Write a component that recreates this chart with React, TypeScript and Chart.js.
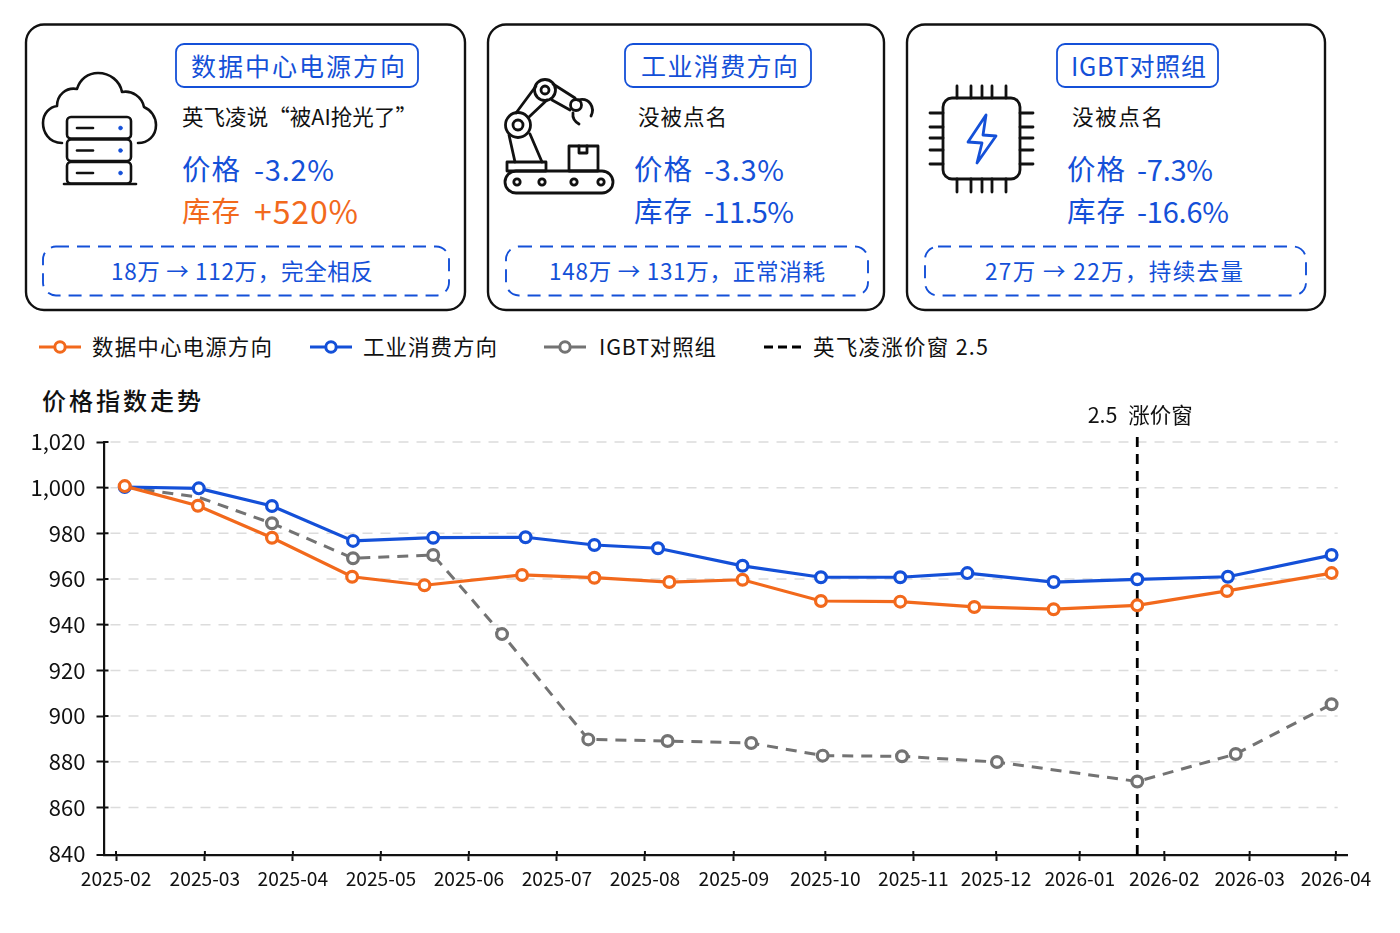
import React, { useEffect, useRef } from "react";
import { Chart, registerables } from "chart.js";

Chart.register(...registerables);

const FONT = '"Noto Sans CJK SC", "Noto Sans", sans-serif';
const ORANGE = "#f2691c";
const BLUE = "#1450d8";
const GREY = "#737373";
const INK = "#111111";

// ---- chart data ----
const monthLabels = ["2025-02","2025-03","2025-04","2025-05","2025-06","2025-07","2025-08","2025-09","2025-10","2025-11","2025-12","2026-01","2026-02","2026-03","2026-04"];
const monthPositions = [0,1.02,2.03,3.04,4.05,5.06,6.07,7.09,8.14,9.15,10.1,11.06,12.03,13.01,14];
const yTicks = [840,860,880,900,920,940,960,980,1000,1020];

const dcX = [0.1,0.94,1.79,2.71,3.54,4.66,5.49,6.35,7.19,8.09,9,9.85,10.76,11.72,12.75,13.95];
const dcY = [1000.7,992.1,978.1,961,957.3,961.8,960.6,958.7,959.7,950.4,950.1,947.8,946.8,948.5,954.8,962.6];
const indX = [0.1,0.95,1.79,2.72,3.64,4.7,5.49,6.22,7.19,8.09,9,9.77,10.76,11.72,12.76,13.95];
const indY = [1000.3,999.7,992,976.7,978.1,978.3,974.9,973.5,965.8,960.8,960.8,962.6,958.7,959.9,961,970.5];
const igbtX = [0.1,0.94,1.79,2.72,3.64,4.43,5.42,6.33,7.29,8.11,9.02,10.11,11.72,12.85,13.95];
const igbtY = [1000.3,995.9,984.4,969.1,970.5,935.9,889.8,889.1,888.2,882.7,882.4,879.9,871.4,883.4,905.2];
const windowX = [11.72,11.72];
const windowY = [839.2,1024];
const windowLabel = "2.5 涨价窗";

const seriesNames = ["数据中心电源方向","工业消费方向","IGBT对照组","英飞凌涨价窗 2.5"];
const chartTitle = "价格指数走势";

// ---- card text ----
const cardTitles = ["数据中心电源方向","工业消费方向","IGBT对照组"];
const cardNotes = ["英飞凌说“被AI抢光了”","没被点名","没被点名"];
const priceLabel = "价格";
const stockLabel = "库存";
const cardPrices = ["-3.2%","-3.3%","-7.3%"];
const cardStocks = ["+520%","-11.5%","-16.6%"];
const cardFooters = ["18万 → 112万，完全相反","148万 → 131万，正常消耗","27万 → 22万，持续去量"];

const zip = (xs: number[], ys: number[]) => xs.map((x, i) => ({ x, y: ys[i] }));

const dashedGrid = {
  id: "dashedGrid",
  beforeDatasetsDraw(chart: any) {
    const { ctx, scales, chartArea } = chart;
    ctx.save();
    ctx.strokeStyle = "#dcdcdc";
    ctx.lineWidth = 1.5;
    ctx.setLineDash([10, 8]);
    ctx.beginPath();
    scales.y.ticks.forEach((t: any, i: number) => {
      if (t.value === 840) return;
      const py = scales.y.getPixelForTick(i);
      ctx.moveTo(chartArea.left + 6, py);
      ctx.lineTo(scales.x.getPixelForValue(14.02), py);
    });
    ctx.stroke();
    ctx.restore();
  },
};

const axisMarks = {
  id: "axisMarks",
  afterDraw(chart: any) {
    const { ctx, scales, chartArea } = chart;
    ctx.save();
    ctx.strokeStyle = "#111";
    ctx.lineWidth = 2;
    ctx.beginPath();
    scales.x.ticks.forEach((_: any, i: number) => {
      const px = scales.x.getPixelForTick(i);
      ctx.moveTo(px, chartArea.bottom);
      ctx.lineTo(px, chartArea.bottom - 4);
    });
    scales.y.ticks.forEach((t: any, i: number) => {
      if (t.value === 840) return;
      const py = scales.y.getPixelForTick(i);
      ctx.moveTo(chartArea.left, py);
      ctx.lineTo(chartArea.left + 4, py);
    });
    ctx.moveTo(chartArea.left - 8, chartArea.bottom);
    ctx.lineTo(chartArea.left, chartArea.bottom);
    ctx.stroke();
    ctx.restore();
  },
};

const windowCaption = {
  id: "windowCaption",
  afterDraw(chart: any) {
    const { ctx, scales } = chart;
    ctx.save();
    ctx.font = `21.5px ${FONT}`;
    (ctx as any).wordSpacing = "6px";
    ctx.fillStyle = INK;
    ctx.textAlign = "center";
    ctx.textBaseline = "middle";
    ctx.fillText(windowLabel, scales.x.getPixelForValue(windowX[0]) + 3, scales.y.getPixelForValue(windowY[1]) - 18.5);
    ctx.restore();
  },
};

const T = (p: any) => <text dominantBaseline="central" fontFamily={FONT} {...p} />;

function CloudIcon() {
  const rows = [117, 139.5, 162];
  return (
    <g fill="none" stroke={INK} strokeWidth={2.6} strokeLinecap="round" strokeLinejoin="round">
      <path d="M62 143 C48 143 43 131 43 123 C43 113 50 107 57 106 C57 95 66 87 77 89 C80 79 88 73 98 73 C110 73 120 81 122 92 C132 90 142 97 144 107 C151 110 156 117 156 125 C156 136 148 143 138 143" />
      {rows.map((y) => (
        <g key={y}>
          <rect x={67} y={y} width={64} height={21.5} rx={4} fill="#fff" />
          <line x1={77} y1={y + 11} x2={93} y2={y + 11} />
          <circle cx={120.5} cy={y + 11} r={2} fill={BLUE} stroke={BLUE} strokeWidth={0.5} />
        </g>
      ))}
      <line x1={64} y1={184} x2={136} y2={184} />
    </g>
  );
}

function RobotIcon() {
  return (
    <g fill="none" stroke={INK} strokeWidth={2.8} strokeLinecap="round" strokeLinejoin="round">
      <rect x={505} y={171} width={108} height={22} rx={11} />
      {[517, 542, 574, 601].map((x) => <circle key={x} cx={x} cy={182} r={3.2} />)}
      <rect x={507} y={162} width={39} height={9} />
      <rect x={569} y={146} width={29} height={25} />
      <path d="M579 146 V153 H587 V146" />
      <path d="M515 162 L509 135 M542 162 L530 134" />
      <circle cx={518} cy={125} r={12.5} />
      <circle cx={518} cy={125} r={5} />
      <path d="M516 113 L536 86 M529 117 L547 100" />
      <circle cx={545} cy={90} r={10.5} />
      <circle cx={545} cy={90} r={4} />
      <path d="M553 84 L575 98 M552 100 L570 110" />
      <circle cx={576} cy={105} r={5.5} />
      <path d="M578 100 C590 97 595 108 591 116 M573 113 Q572 120 579 124" />
    </g>
  );
}

function ChipIcon() {
  const hs = [957, 971, 982, 992, 1006];
  const vs = [113, 127, 138, 150, 164];
  return (
    <g fill="none" stroke={INK} strokeWidth={2.8} strokeLinecap="round" strokeLinejoin="round">
      <rect x={943} y={98} width={77} height={81} rx={9} />
      {hs.map((x) => <path key={x} d={`M${x} 86 V98 M${x} 179 V192`} />)}
      {vs.map((y) => <path key={y} d={`M930 ${y} H943 M1020 ${y} H1033`} />)}
      <path d="M986 115 L968 142 L982 143 L977 163 L996 136 L983 135 Z" stroke={BLUE} />
    </g>
  );
}

const cardIcons = [CloudIcon, RobotIcon, ChipIcon];
const cardFrames = [
  { x: 26, w: 439, pill: [176, 242], title: [191, 214], note: [182, 235], valX: 182, numX: 254, numW: [80, 104], stockSize: 32, stockColor: ORANGE, dash: [43, 406], foot: [111, 262] },
  { x: 488, w: 396, pill: [625, 186], title: [641, 157], note: [638, 89], valX: 634, numX: 704, numW: [80, 90], stockSize: 29, stockColor: BLUE, dash: [506, 362], foot: [549, 276] },
  { x: 907, w: 418, pill: [1057, 161], title: [1071, 135], note: [1072, 91], valX: 1067, numX: 1137, numW: [76, 92], stockSize: 29, stockColor: BLUE, dash: [925, 381], foot: [985, 258] },
];

const legendLayout = [
  { x: 39, textX: 92, textW: 180, color: ORANGE, dash: undefined, marker: true },
  { x: 310, textX: 363, textW: 134, color: BLUE, dash: undefined, marker: true },
  { x: 544, textX: 599, textW: 117, color: GREY, dash: "15 12", marker: true },
  { x: 764, textX: 813, textW: 175, color: "#000", dash: "9 5", marker: false },
];

function Overlay() {
  return (
    <svg width={1400} height={933} style={{ position: "absolute", left: 0, top: 0 }}>
      {cardFrames.map((c, i) => {
        const Icon = cardIcons[i];
        return (
          <g key={i}>
            <rect x={c.x} y={24.5} width={c.w} height={285.5} rx={18} fill="#fff" stroke={INK} strokeWidth={2.4} />
            <rect x={c.pill[0]} y={44} width={c.pill[1]} height={43} rx={8} fill="#fff" stroke={BLUE} strokeWidth={1.8} />
            <T x={c.title[0]} y={64.5} textLength={c.title[1]} fontSize={25} fill={BLUE}>{cardTitles[i]}</T>
            <T x={c.note[0]} y={115.5} textLength={c.note[1]} fontSize={21.5} fill={INK}>{cardNotes[i]}</T>
            <T x={c.valX} y={167.5} textLength={58} fontSize={28.5} fill={BLUE}>{priceLabel}</T>
            <T x={c.numX} y={167.5} textLength={c.numW[0]} fontSize={29} fill={BLUE}>{cardPrices[i]}</T>
            <T x={c.valX} y={209.5} textLength={58} fontSize={28.5} fill={c.stockColor}>{stockLabel}</T>
            <T x={c.numX} y={209.5} textLength={c.numW[1]} fontSize={c.stockSize} fill={c.stockColor}>{cardStocks[i]}</T>
            <rect x={c.dash[0]} y={246.5} width={c.dash[1]} height={49} rx={13} fill="none" stroke={BLUE} strokeWidth={1.9} strokeDasharray="13 8" />
            <T x={c.foot[0]} y={269.5} textLength={c.foot[1]} fontSize={22.5} fill={BLUE}>{cardFooters[i]}</T>
            <Icon />
          </g>
        );
      })}
      {legendLayout.map((l, i) => (
        <g key={i}>
          <line x1={l.x} y1={347} x2={l.x + 42} y2={347} stroke={l.color} strokeWidth={3} strokeDasharray={l.dash} />
          {l.marker && <circle cx={l.x + 21} cy={347} r={5.2} fill="#fff" stroke={l.color} strokeWidth={3} />}
          <T x={l.textX} y={345.5} textLength={l.textW} fontSize={21.5} fill={INK}>{seriesNames[i]}</T>
        </g>
      ))}
      <T x={42} y={399.5} textLength={159} fontSize={24} fontWeight={500} fill={INK}>{chartTitle}</T>
    </svg>
  );
}

export default function App() {
  const ref = useRef<HTMLCanvasElement>(null);
  useEffect(() => {
    const point = (color: string) => ({
      borderColor: color,
      pointBorderColor: color,
      pointBackgroundColor: "#fff",
      pointBorderWidth: 3.2,
      pointRadius: 5.4,
      borderWidth: 3.2,
      tension: 0,
    });
    const chart = new Chart(ref.current!, {
      type: "line",
      data: {
        datasets: [
          { label: seriesNames[0], data: zip(dcX, dcY), ...point(ORANGE) },
          { label: seriesNames[1], data: zip(indX, indY), ...point(BLUE) },
          {
            label: seriesNames[2],
            data: zip(igbtX, igbtY),
            ...point(GREY),
            borderDash: [11, 8],
            borderWidth: 3,
            pointRadius: igbtX.map((_, i) => (i < 2 ? 0 : 5.4)),
          },
          {
            label: seriesNames[3],
            data: zip(windowX, windowY),
            borderColor: "#000",
            borderWidth: 2.8,
            borderDash: [10, 7],
            pointRadius: 0,
            clip: false,
          },
        ],
      } as any,
      options: {
        animation: false,
        responsive: false,
        layout: { padding: { top: 442, right: 52.3, left: 0, bottom: 0 } },
        plugins: { legend: { display: false }, title: { display: false }, tooltip: { enabled: false } },
        scales: {
          x: {
            type: "linear",
            min: -0.132,
            max: 14.135,
            afterBuildTicks: (s: any) => { s.ticks = monthPositions.map((value) => ({ value })); },
            afterFit: (s: any) => { s.height = 78; },
            ticks: {
              autoSkip: false,
              maxRotation: 0,
              padding: 6,
              color: INK,
              font: { family: FONT, size: 19.2 },
              callback: (_: any, i: number) => monthLabels[i],
            },
            grid: { drawOnChartArea: false, tickLength: 6, tickColor: "#111", tickWidth: 2 },
            border: { color: "#111", width: 2.2 },
          },
          y: {
            type: "linear",
            min: 839.2,
            max: 1020,
            afterBuildTicks: (s: any) => { s.ticks = yTicks.map((value) => ({ value })); },
            afterFit: (s: any) => { s.width = 104.5; },
            ticks: {
              padding: 11,
              color: INK,
              font: { family: FONT, size: 22 },
              callback: (v: any) => Number(v).toLocaleString("en-US"),
            },
            grid: {
              drawOnChartArea: false,
              tickLength: 8,
              tickColor: (c: any) => (c.tick && c.tick.value === 840 ? "transparent" : "#111"),
              tickWidth: 2,
            },
            border: { color: "#111", width: 2.2 },
          },
        },
      },
      plugins: [dashedGrid, axisMarks, windowCaption],
    } as any);
    return () => chart.destroy();
  }, []);
  return (
    <div style={{ position: "relative", width: 1400, height: 933, background: "#fff" }}>
      <style>{"body{margin:0;background:#fff}"}</style>
      <Overlay />
      <canvas ref={ref} width={1400} height={933} style={{ position: "absolute", left: 0, top: 0 }} />
    </div>
  );
}
